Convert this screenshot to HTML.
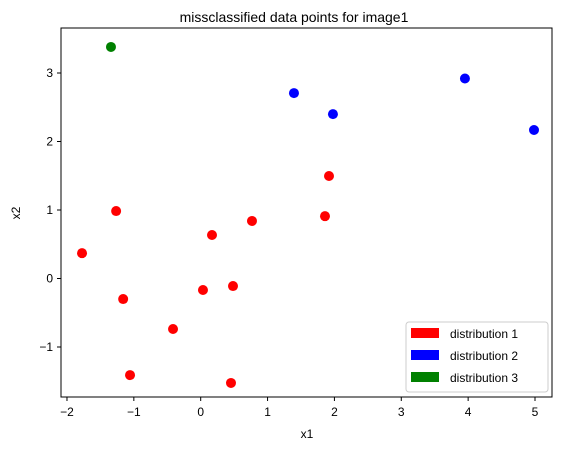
<!DOCTYPE html>
<html><head><meta charset="utf-8"><style>
body{margin:0;background:#fff;}
svg{display:block;font-family:"Liberation Sans",sans-serif;}
</style></head><body>
<svg id="chart" width="565" height="453">
<rect x="0" y="0" width="565" height="453" fill="#fff"/>
<text x="294" y="22" text-anchor="middle" font-size="14">missclassified data points for image1</text>
<g id="marks"></g>
<rect x="61" y="28" width="491" height="369" fill="none" stroke="#000" stroke-width="1"/>
<g id="xticks"></g><g id="yticks"></g>
<text x="307" y="438" text-anchor="middle" font-size="12">x1</text>
<text x="20" y="213" text-anchor="middle" font-size="12" transform="rotate(-90 20 213)">x2</text>
<g>
<rect x="406" y="322" width="142" height="70" rx="3" fill="#fff" stroke="#ccc"/>
<g><rect x="411" y="328" width="28" height="10" fill="red"/><text x="450" y="338" font-size="12">distribution 1</text></g>
<g><rect x="411" y="350" width="28" height="10" fill="blue"/><text x="450" y="360" font-size="12">distribution 2</text></g>
<g><rect x="411" y="372" width="28" height="10" fill="green"/><text x="450" y="382" font-size="12">distribution 3</text></g>
</g>
</svg>
<script>
const redX=[-1.775,-1.265,-1.16,-1.057,-0.414,0.034,0.169,0.483,0.453,0.767,1.859,1.919];
const redY=[0.37,0.985,-0.30,-1.41,-0.737,-0.168,0.635,-0.11,-1.525,0.84,0.91,1.496];
const blueX=[1.395,1.978,3.952,4.985];
const blueY=[2.707,2.40,2.92,2.168];
const greenX=[-1.342];
const greenY=[3.38];
const xTicks=[-2,-1,0,1,2,3,4,5];
const yTicks=[-1,0,1,2,3];
const NS="http://www.w3.org/2000/svg";
function sx(v){return 200.7+v*66.86;}
function sy(v){return 278.5-v*68.5;}
const marks=document.getElementById('marks');
function series(xs,ys,color,name){
  xs.forEach((x,i)=>{
    const c=document.createElementNS(NS,'circle');
    c.setAttribute('cx',sx(x));c.setAttribute('cy',sy(ys[i]));c.setAttribute('r',5);c.setAttribute('fill',color);
    
    
    marks.appendChild(c);
  });
}
series(redX,redY,'red','distribution-1');
series(blueX,blueY,'blue','distribution-2');
series(greenX,greenY,'green','distribution-3');
const xg=document.getElementById('xticks');
xTicks.forEach(t=>{
  const g=document.createElementNS(NS,'g');
  
  
  const x=sx(t);
  g.innerHTML=`<line x1="${x}" y1="397" x2="${x}" y2="401" stroke="#000"/><text x="${x}" y="416" text-anchor="middle" font-size="12">${t<0?'\u2212'+(-t):t}</text>`;
  xg.appendChild(g);
});
const yg=document.getElementById('yticks');
yTicks.forEach(t=>{
  const g=document.createElementNS(NS,'g');
  
  
  const y=sy(t);
  g.innerHTML=`<line x1="57" y1="${y}" x2="61" y2="${y}" stroke="#000"/><text x="53" y="${y+4}" text-anchor="end" font-size="12">${t<0?'\u2212'+(-t):t}</text>`;
  yg.appendChild(g);
});
</script>
</body></html>
